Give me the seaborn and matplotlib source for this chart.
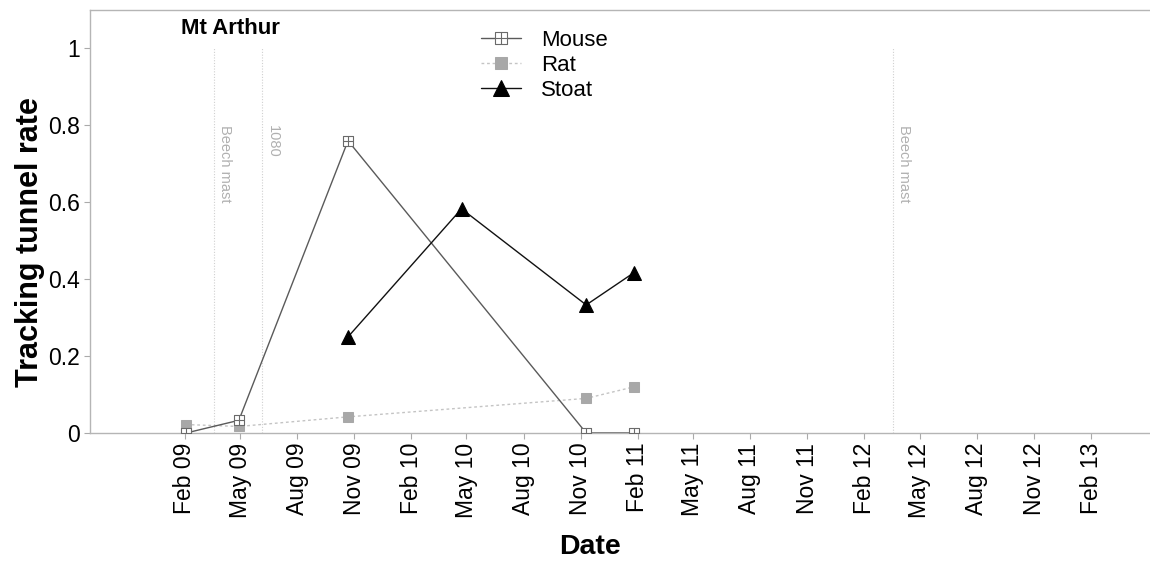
import matplotlib
matplotlib.use("Agg")
import matplotlib.pyplot as plt
import matplotlib.dates as mdates
from matplotlib.path import Path
import numpy as np
import pandas as pd
import seaborn as sns

# Survey dates and tracking tunnel rates at Mt Arthur
rodent_dates = ["2009-02-03", "2009-04-29", "2009-10-22", "2010-11-10", "2011-01-26"]
mouse_rate = [0.0, 0.033, 0.76, 0.0, 0.0]
rat_rate = [0.022, 0.017, 0.042, 0.09, 0.12]

stoat_dates = ["2009-10-22", "2010-04-23", "2010-11-10", "2011-01-26"]
stoat_rate = [0.25, 0.583, 0.333, 0.417]

# Management events marked as vertical reference lines
event_dates = ["2009-03-20", "2009-06-05", "2012-03-19"]
event_labels = ["Beech mast", "1080", "Beech mast"]

# Quarterly date ticks
x_tick_dates = pd.date_range("2009-02-01", "2013-02-01", freq="3MS")

y_ticks = [0, 0.2, 0.4, 0.6, 0.8, 1]
y_tick_labels = ["0", "0.2", "0.4", "0.6", "0.8", "1"]

sns.set_theme(style="white")
plt.rcParams["font.family"] = ["Liberation Sans", "DejaVu Sans"]
plt.rcParams["text.color"] = "black"
plt.rcParams["xtick.labelcolor"] = "black"
plt.rcParams["ytick.labelcolor"] = "black"

fig = plt.figure(figsize=(11.5, 5.65), dpi=100)
ax = fig.add_axes([90 / 1150, 1 - 433 / 565, 1 - 90 / 1150, (433 - 10) / 565])

# square with a cross inside, used for the mouse series
box_cross = Path(
    [(-1, -1), (1, -1), (1, 1), (-1, 1), (-1, -1),
     (0, -1), (0, 1), (-1, 0), (1, 0)],
    [Path.MOVETO, Path.LINETO, Path.LINETO, Path.LINETO, Path.CLOSEPOLY,
     Path.MOVETO, Path.LINETO, Path.MOVETO, Path.LINETO],
)

mouse_df = pd.DataFrame({"date": pd.to_datetime(rodent_dates), "rate": mouse_rate})
rat_df = pd.DataFrame({"date": pd.to_datetime(rodent_dates), "rate": rat_rate})
stoat_df = pd.DataFrame({"date": pd.to_datetime(stoat_dates), "rate": stoat_rate})

sns.lineplot(data=mouse_df, x="date", y="rate", ax=ax, label="Mouse",
             color="#5a5a5a", lw=1.0, marker=box_cross, markersize=7,
             markerfacecolor="white", markeredgecolor="#6a6a6a",
             markeredgewidth=0.8, zorder=3)
sns.lineplot(data=rat_df, x="date", y="rate", ax=ax, label="Rat",
             color="#c4c4c4", lw=1.0, linestyle=(0, (2, 2)), marker="s",
             markersize=7.5, markerfacecolor="#a8a8a8", markeredgecolor="#a8a8a8",
             zorder=2)
sns.lineplot(data=stoat_df, x="date", y="rate", ax=ax, label="Stoat",
             color="#111111", lw=1.0, marker="^", markersize=9.5,
             markerfacecolor="black", markeredgecolor="black", zorder=4)

# event lines with rotated captions
ev = pd.to_datetime(event_dates)
ax.vlines(ev, 0, 1, colors="#d0d0d0", linestyles=(0, (1, 1.5)), lw=0.8, zorder=1)
for d, lab in zip(ev, event_labels):
    ax.annotate(lab, xy=(d, 0.8), xytext=(3, 0), textcoords="offset points",
                rotation=270, ha="left", va="top", fontsize=10.5, color="#b0b0b0")

ax.set_xlim(pd.Timestamp("2008-09-01"), pd.Timestamp("2013-05-07"))
ax.set_ylim(0, 1.1)

ax.set_xticks(x_tick_dates)
ax.xaxis.set_major_formatter(mdates.DateFormatter("%b %y"))
ax.set_yticks(y_ticks)
ax.set_yticklabels(y_tick_labels)
ax.tick_params(axis="x", rotation=90, labelsize=16.5, length=4, width=0.8,
               color="#aaaaaa", bottom=True, pad=3)
ax.tick_params(axis="y", labelsize=16.5, length=4, width=0.8,
               color="#aaaaaa", left=True, pad=3)

for side in ["left", "top", "bottom"]:
    ax.spines[side].set_color("#b5b5b5")
    ax.spines[side].set_linewidth(1.0)
ax.spines["right"].set_visible(False)

ax.set_xlabel("")
ax.set_ylabel("")
fig.text(30 / 1150, 1 - 242 / 565, "Tracking tunnel rate", rotation=90,
         ha="center", va="center", fontsize=22, fontweight="bold")
fig.text(590 / 1150, 1 - 547 / 565, "Date", ha="center", va="center",
         fontsize=20.5, fontweight="bold")
fig.text(181 / 1150, 1 - 29 / 565, "Mt Arthur", ha="left", va="center",
         fontsize=16, fontweight="bold")

leg = ax.legend(loc="upper left", bbox_to_anchor=(481 / 1150, 1 - 30 / 565),
                bbox_transform=fig.transFigure, frameon=False, fontsize=16,
                handlelength=1.8, handletextpad=0.9, labelspacing=0.18,
                borderpad=0, borderaxespad=0, markerscale=1.2)

fig.savefig("out.png", dpi=100)
